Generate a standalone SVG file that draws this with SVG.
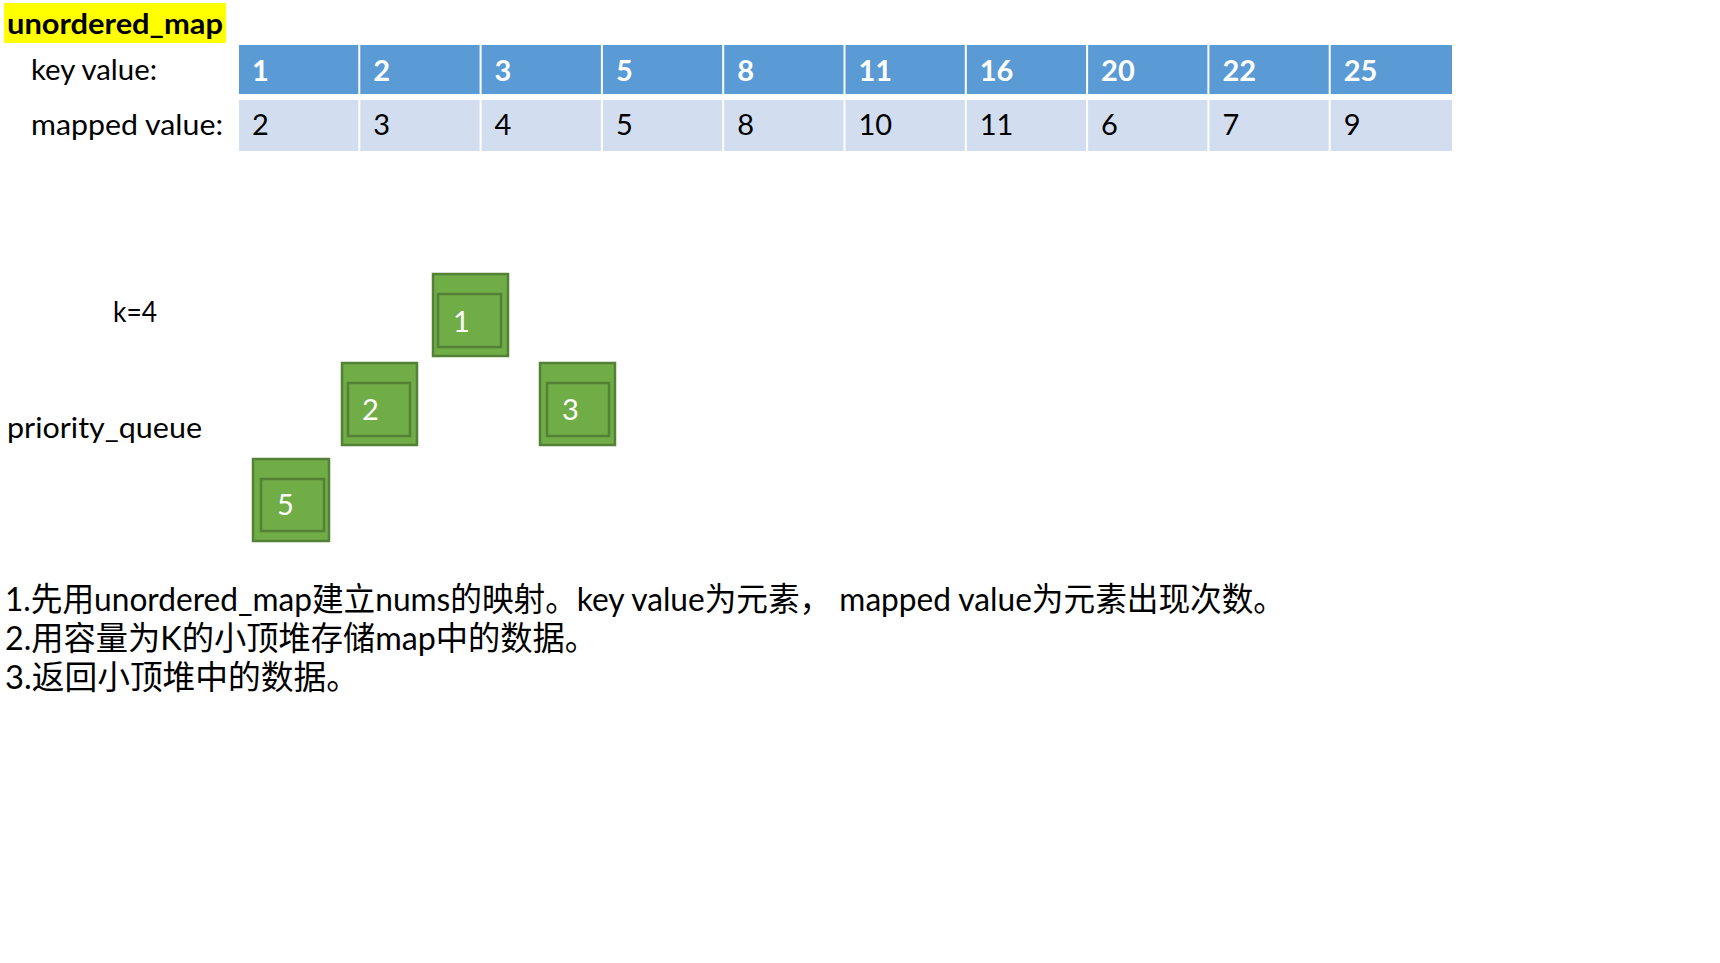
<svg xmlns="http://www.w3.org/2000/svg" width="1720" height="963" viewBox="0 0 1720 963">
<style>
text{font-family:Lato,"Noto Sans CJK SC",sans-serif;font-size:29px;fill:#000}
.kc{fill:#5B9BD5}
.mc{fill:#D2DEEF}
.kt{fill:#fff;font-weight:bold}
.bo{fill:#70AD47;stroke:#538135;stroke-width:2.5}
.bi{fill:#70AD47;stroke:#538135;stroke-width:2.5}
.bt{fill:#fff}
.cn{font-size:33px}
</style>
<rect width="1720" height="963" fill="#fff"/>
<g id="title">
<rect x="4" y="3" width="222" height="40" fill="#FFFF00"/>
<text x="7" y="34" font-weight="bold" textLength="216" lengthAdjust="spacingAndGlyphs">unordered_map</text>
</g>
<g id="labels">
<text x="31" y="80" textLength="126" lengthAdjust="spacingAndGlyphs">key value:</text>
<text x="31" y="135" textLength="192" lengthAdjust="spacingAndGlyphs">mapped value:</text>
</g>
<g id="table">
<rect class="kc" x="239" y="45" width="119.3" height="49"/>
<rect class="kc" x="360.3" y="45" width="119.3" height="49"/>
<rect class="kc" x="481.6" y="45" width="119.3" height="49"/>
<rect class="kc" x="602.9" y="45" width="119.3" height="49"/>
<rect class="kc" x="724.2" y="45" width="119.3" height="49"/>
<rect class="kc" x="845.5" y="45" width="119.3" height="49"/>
<rect class="kc" x="966.8" y="45" width="119.3" height="49"/>
<rect class="kc" x="1088.1" y="45" width="119.3" height="49"/>
<rect class="kc" x="1209.4" y="45" width="119.3" height="49"/>
<rect class="kc" x="1330.7" y="45" width="121.3" height="49"/>
<rect class="mc" x="239" y="100" width="119.3" height="51"/>
<rect class="mc" x="360.3" y="100" width="119.3" height="51"/>
<rect class="mc" x="481.6" y="100" width="119.3" height="51"/>
<rect class="mc" x="602.9" y="100" width="119.3" height="51"/>
<rect class="mc" x="724.2" y="100" width="119.3" height="51"/>
<rect class="mc" x="845.5" y="100" width="119.3" height="51"/>
<rect class="mc" x="966.8" y="100" width="119.3" height="51"/>
<rect class="mc" x="1088.1" y="100" width="119.3" height="51"/>
<rect class="mc" x="1209.4" y="100" width="119.3" height="51"/>
<rect class="mc" x="1330.7" y="100" width="121.3" height="51"/>
<text class="kt" x="252" y="81">1</text>
<text class="kt" x="373.3" y="81">2</text>
<text class="kt" x="494.6" y="81">3</text>
<text class="kt" x="615.9" y="81">5</text>
<text class="kt" x="737.2" y="81">8</text>
<text class="kt" x="858.5" y="81">11</text>
<text class="kt" x="979.8" y="81">16</text>
<text class="kt" x="1101.1" y="81">20</text>
<text class="kt" x="1222.4" y="81">22</text>
<text class="kt" x="1343.7" y="81">25</text>
<text x="252" y="135">2</text>
<text x="373.3" y="135">3</text>
<text x="494.6" y="135">4</text>
<text x="615.9" y="135">5</text>
<text x="737.2" y="135">8</text>
<text x="858.5" y="135">10</text>
<text x="979.8" y="135">11</text>
<text x="1101.1" y="135">6</text>
<text x="1222.4" y="135">7</text>
<text x="1343.7" y="135">9</text>
</g>
<g id="k-label"><text x="113" y="322" textLength="44" lengthAdjust="spacingAndGlyphs">k=4</text></g>
<g id="pq-label"><text x="7" y="438" textLength="195" lengthAdjust="spacingAndGlyphs">priority_queue</text></g>
<g id="node-1">
<rect class="bo" x="433" y="274" width="75" height="82"/>
<rect class="bi" x="438" y="294" width="63" height="53"/>
<text class="bt" x="453" y="332">1</text>
</g>
<g id="node-2">
<rect class="bo" x="342" y="363" width="75" height="82"/>
<rect class="bi" x="348" y="383" width="62" height="53"/>
<text class="bt" x="362" y="420">2</text>
</g>
<g id="node-3">
<rect class="bo" x="540" y="363" width="75" height="82"/>
<rect class="bi" x="547" y="383" width="62" height="53"/>
<text class="bt" x="562" y="420">3</text>
</g>
<g id="node-5">
<rect class="bo" x="253" y="459" width="76" height="82"/>
<rect class="bi" x="261" y="479" width="63" height="52"/>
<text class="bt" x="277" y="515">5</text>
</g>
<g id="connectors"/>
<g id="notes">
<text class="cn" x="5" y="611" textLength="1280" lengthAdjust="spacingAndGlyphs">1.先用unordered_map建立nums的映射。key value为元素， mapped value为元素出现次数。</text>
<text class="cn" x="5" y="650" textLength="592" lengthAdjust="spacingAndGlyphs">2.用容量为K的小顶堆存储map中的数据。</text>
<text class="cn" x="5" y="689" textLength="354" lengthAdjust="spacingAndGlyphs">3.返回小顶堆中的数据。</text>
</g>
</svg>
